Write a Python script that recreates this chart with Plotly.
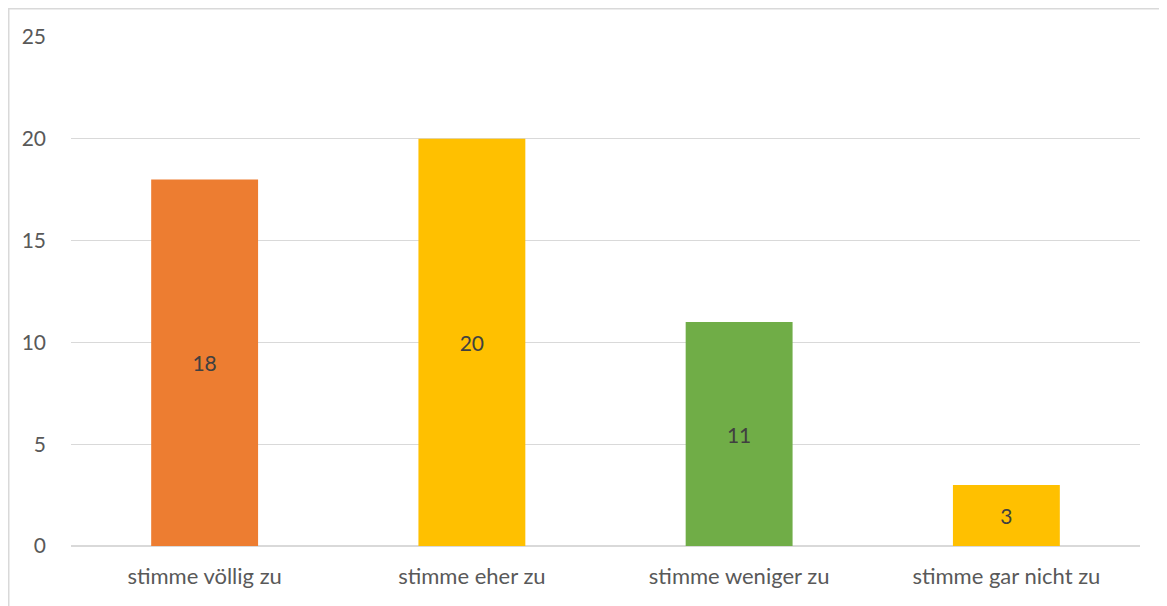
import plotly.graph_objects as go

categories = ["stimme völlig zu", "stimme eher zu", "stimme weniger zu", "stimme gar nicht zu"]
values = [18, 20, 11, 3]
colors = ["#ED7D31", "#FFC000", "#70AD47", "#FFC000"]
y_ticks = [0, 5, 10, 15, 20, 25]

# page has an 8px body margin; the figure starts at (8, 8)
W, H = 1167, 606
L, R, T, B = 63, 35, 29, 68
pw, ph = W - L - R, H - T - B
FONT = "Lato, Open Sans, sans-serif"

fig = go.Figure(go.Bar(
    x=categories, y=values, marker=dict(color=colors, line=dict(width=0)),
    text=[str(v) for v in values], textposition="inside", insidetextanchor="middle",
    textfont=dict(family=FONT, size=21, color="#404040"),
    textangle=0, hoverinfo="skip"
))

fig.update_layout(
    width=W, height=H, margin=dict(l=L, r=R, t=T, b=B),
    paper_bgcolor="white", plot_bgcolor="white", showlegend=False,
    bargap=0.6,
    font=dict(family=FONT, size=22, color="#595959"),
    xaxis=dict(showgrid=False, showline=False, ticks="", ticklabelstandoff=15,
               tickfont=dict(size=22, color="#595959")),
    yaxis=dict(range=[0, 25], tickvals=y_ticks, showgrid=True, gridcolor="#D9D9D9",
               gridwidth=1, zeroline=True, zerolinecolor="#D9D9D9", zerolinewidth=1.5,
               showline=False, ticks="", ticklabelstandoff=24,
               tickfont=dict(size=21, color="#595959")),
    shapes=[dict(type="rect", xref="paper", yref="paper",
                 x0=(0.75 - L) / pw, x1=1.2, y0=-0.3, y1=(H - B - 0.75) / ph,
                 line=dict(color="#D9D9D9", width=1.5), fillcolor="rgba(0,0,0,0)", layer="below")],
)

fig.write_html("out.html")
